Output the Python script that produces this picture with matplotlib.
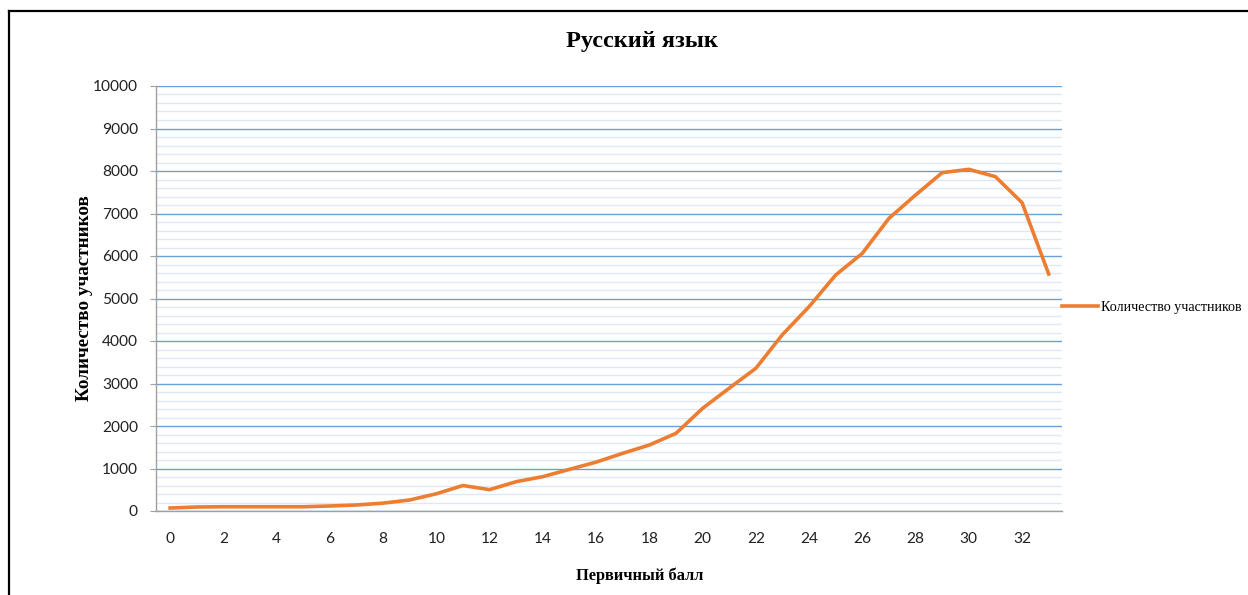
import matplotlib
matplotlib.use("Agg")
import matplotlib.pyplot as plt
from matplotlib.lines import Line2D
from matplotlib.ticker import MultipleLocator

# Data
scores = list(range(0, 34))
participants = [70, 94, 100, 100, 100, 100, 118, 141, 185, 259,
                405, 600, 502, 690, 808, 980, 1150, 1357, 1553, 1827,
                2415, 2890, 3357, 4150, 4808, 5553, 6063, 6886, 7435, 7961,
                8039, 7867, 7255, 5576]
xtick_labels = [str(v) for v in range(0, 34, 2)]
title = "Русский язык"
xlabel = "Первичный балл"
ylabel = "Количество участников"
series_name = "Количество участников"

W, H = 1248, 595
fig = plt.figure(figsize=(W / 100, H / 100), dpi=100)
fig.patch.set_facecolor("white")

ax = fig.add_axes([156 / W, 1 - 511 / H, (1062 - 156) / W, (511 - 86) / H])

ax.plot(scores, participants, color="#ED7D31", lw=2.6, solid_joinstyle="round",
        label=series_name, zorder=3)

ax.set_xlim(-0.53, 33.5)
ax.set_ylim(0, 10000)
ax.yaxis.set_major_locator(MultipleLocator(1000))
ax.yaxis.set_minor_locator(MultipleLocator(200))
ax.set_xticks(list(range(0, 34, 2)))
ax.set_xticklabels(xtick_labels)

ax.grid(which="major", axis="y", color="#6A9FD4", lw=1.0, zorder=1)
ax.grid(which="minor", axis="y", color="#DFE9F5", lw=1.0, zorder=0)
ax.set_axisbelow(True)

for s in ["top", "right"]:
    ax.spines[s].set_visible(False)
for s in ["left", "bottom"]:
    ax.spines[s].set_color("#A0A0A0")
    ax.spines[s].set_linewidth(1.0)

ax.tick_params(axis="y", which="major", length=4, color="#A0A0A0", pad=9,
               labelsize=11.2, labelcolor="#222222")
ax.tick_params(axis="y", which="minor", length=0)
ax.tick_params(axis="x", which="both", length=0, pad=15, labelsize=11.2,
               labelcolor="#222222")
for lbl in ax.get_xticklabels() + ax.get_yticklabels():
    lbl.set_family("Lato")

fig.text(642 / W, 1 - 42 / H, title, ha="center", va="center",
         fontsize=17.5, fontweight="bold", family="Liberation Serif")
fig.text(640 / W, 1 - 576 / H, xlabel, ha="center", va="center",
         fontsize=11.8, fontweight="bold", family="Liberation Serif")
fig.text(85 / W, 1 - 298 / H, ylabel, ha="center", va="center", rotation=90,
         fontsize=13.8, fontweight="bold", family="Liberation Serif")

leg = ax.legend(loc="center left", bbox_to_anchor=(1062 / W, 1 - 307 / H),
                bbox_transform=fig.transFigure, frameon=False,
                prop={"family": "Liberation Serif", "size": 10.1},
                handlelength=2.6, handletextpad=0.2, borderaxespad=0, borderpad=0)
leg.get_lines()[0].set_linewidth(2.6)

# outer frame
fig.add_artist(Line2D([9 / W, 1.01], [1 - 11 / H, 1 - 11 / H], transform=fig.transFigure,
                      color="black", lw=1.6, clip_on=False))
fig.add_artist(Line2D([9 / W, 9 / W], [1 - 11 / H, -0.01], transform=fig.transFigure,
                      color="black", lw=1.6, clip_on=False))

fig.savefig("out.png", dpi=100, facecolor="white")
